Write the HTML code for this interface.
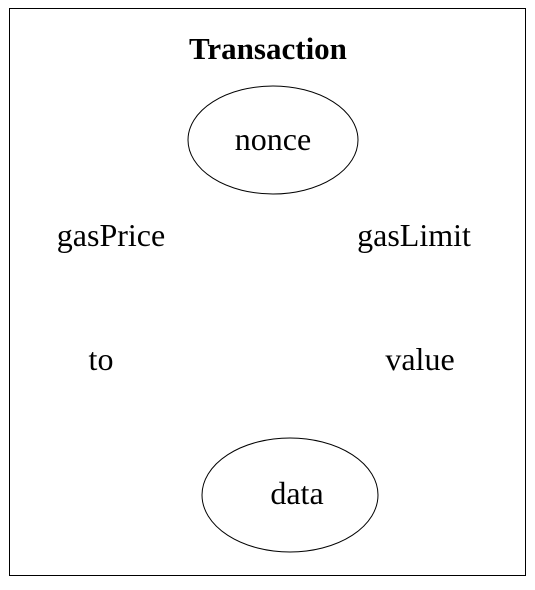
<!DOCTYPE html>
<html><head><style>html,body{margin:0;padding:0;background:#fff;}</style></head>
<body>
<svg width="535" height="585" xmlns="http://www.w3.org/2000/svg" font-family="Liberation Serif, serif">
<rect x="9.5" y="8.5" width="516" height="567" fill="none" stroke="#000" stroke-width="1"/>
<text x="268" y="59" text-anchor="middle" font-size="31" font-weight="bold">Transaction</text>
<ellipse cx="273" cy="140" rx="85" ry="54" fill="none" stroke="#000"/>
<text x="273" y="150" text-anchor="middle" font-size="32">nonce</text>
<text x="111" y="246" text-anchor="middle" font-size="32">gasPrice</text>
<text x="414" y="246" text-anchor="middle" font-size="32">gasLimit</text>
<text x="101" y="370" text-anchor="middle" font-size="32">to</text>
<text x="420" y="370" text-anchor="middle" font-size="32">value</text>
<ellipse cx="290" cy="495" rx="88" ry="57" fill="none" stroke="#000"/>
<text x="297" y="504" text-anchor="middle" font-size="32">data</text>
</svg>
</body></html>
